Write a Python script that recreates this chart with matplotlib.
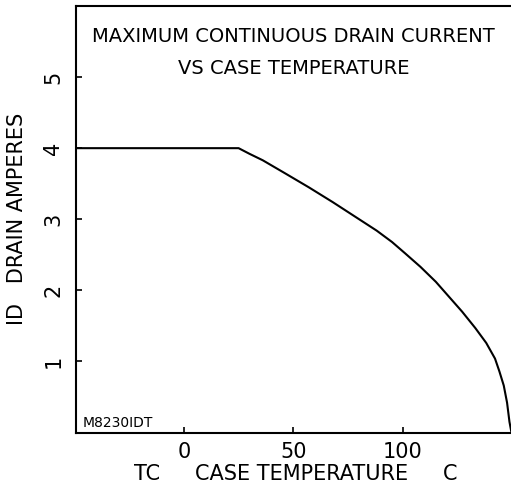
import matplotlib
matplotlib.use("Agg")
import matplotlib.pyplot as plt

# Data
case_temp = [-50, 25, 30, 36, 46, 57, 68, 80, 88, 95, 101, 108, 115, 121, 127, 133, 138, 142, 144, 146, 147.5, 148.6, 149.5]
drain_current = [4.0, 4.0, 3.92, 3.83, 3.65, 3.45, 3.24, 3.0, 2.84, 2.68, 2.52, 2.33, 2.12, 1.91, 1.70, 1.47, 1.26, 1.04, 0.86, 0.66, 0.42, 0.15, 0.0]
x_ticks = [0, 50, 100]
y_ticks = [1, 2, 3, 4, 5]

W, H = 511, 491
fig = plt.figure(figsize=(W / 100, H / 100), dpi=100)
left, right, top, bottom = 76, 511, 6, 432.5
ax = fig.add_axes([left / W, 1 - bottom / H, (right - left) / W, (bottom - top) / H])

ax.plot(case_temp, drain_current, color="black", lw=1.5)
ax.set_xlim(-49.2, 149.3)
ax.set_ylim(0, 6)

for s in ["left", "bottom", "top"]:
    ax.spines[s].set_linewidth(1.5)
ax.spines["right"].set_visible(False)

fs = 15
ax.set_xticks(x_ticks)
ax.set_xticklabels([str(v) for v in x_ticks], fontsize=fs)
ax.set_yticks(y_ticks)
ax.set_yticklabels([str(v) for v in y_ticks], fontsize=fs, rotation=90, va="center")
ax.tick_params(direction="in", length=4, width=1.2)
ax.tick_params(axis="x", pad=7)
ax.tick_params(axis="y", pad=9)

# Title inside the plot
ax.text(0.5, 1 - (36 - top) / (bottom - top), "MAXIMUM CONTINUOUS DRAIN CURRENT",
        transform=ax.transAxes, ha="center", va="center", fontsize=14)
ax.text(0.5, 1 - (69 - top) / (bottom - top), "VS CASE TEMPERATURE",
        transform=ax.transAxes, ha="center", va="center", fontsize=14)

# Figure id label
ax.text((83 - left) / (right - left), (bottom - 427) / (bottom - top), "M8230IDT",
        transform=ax.transAxes, fontsize=10, ha="left", va="baseline")

# X label pieces
fig.text(147 / W, 1 - 474.5 / H, "TC", ha="center", va="center", fontsize=fs)
fig.text(301.5 / W, 1 - 474.5 / H, "CASE TEMPERATURE", ha="center", va="center", fontsize=fs)
fig.text(450 / W, 1 - 474.5 / H, "C", ha="center", va="center", fontsize=fs)

# Y label
fig.text(17 / W, 1 - 218.5 / H, "ID   DRAIN AMPERES", ha="center", va="center",
         rotation=90, fontsize=fs)

fig.savefig("out.png", dpi=100, facecolor="white")
